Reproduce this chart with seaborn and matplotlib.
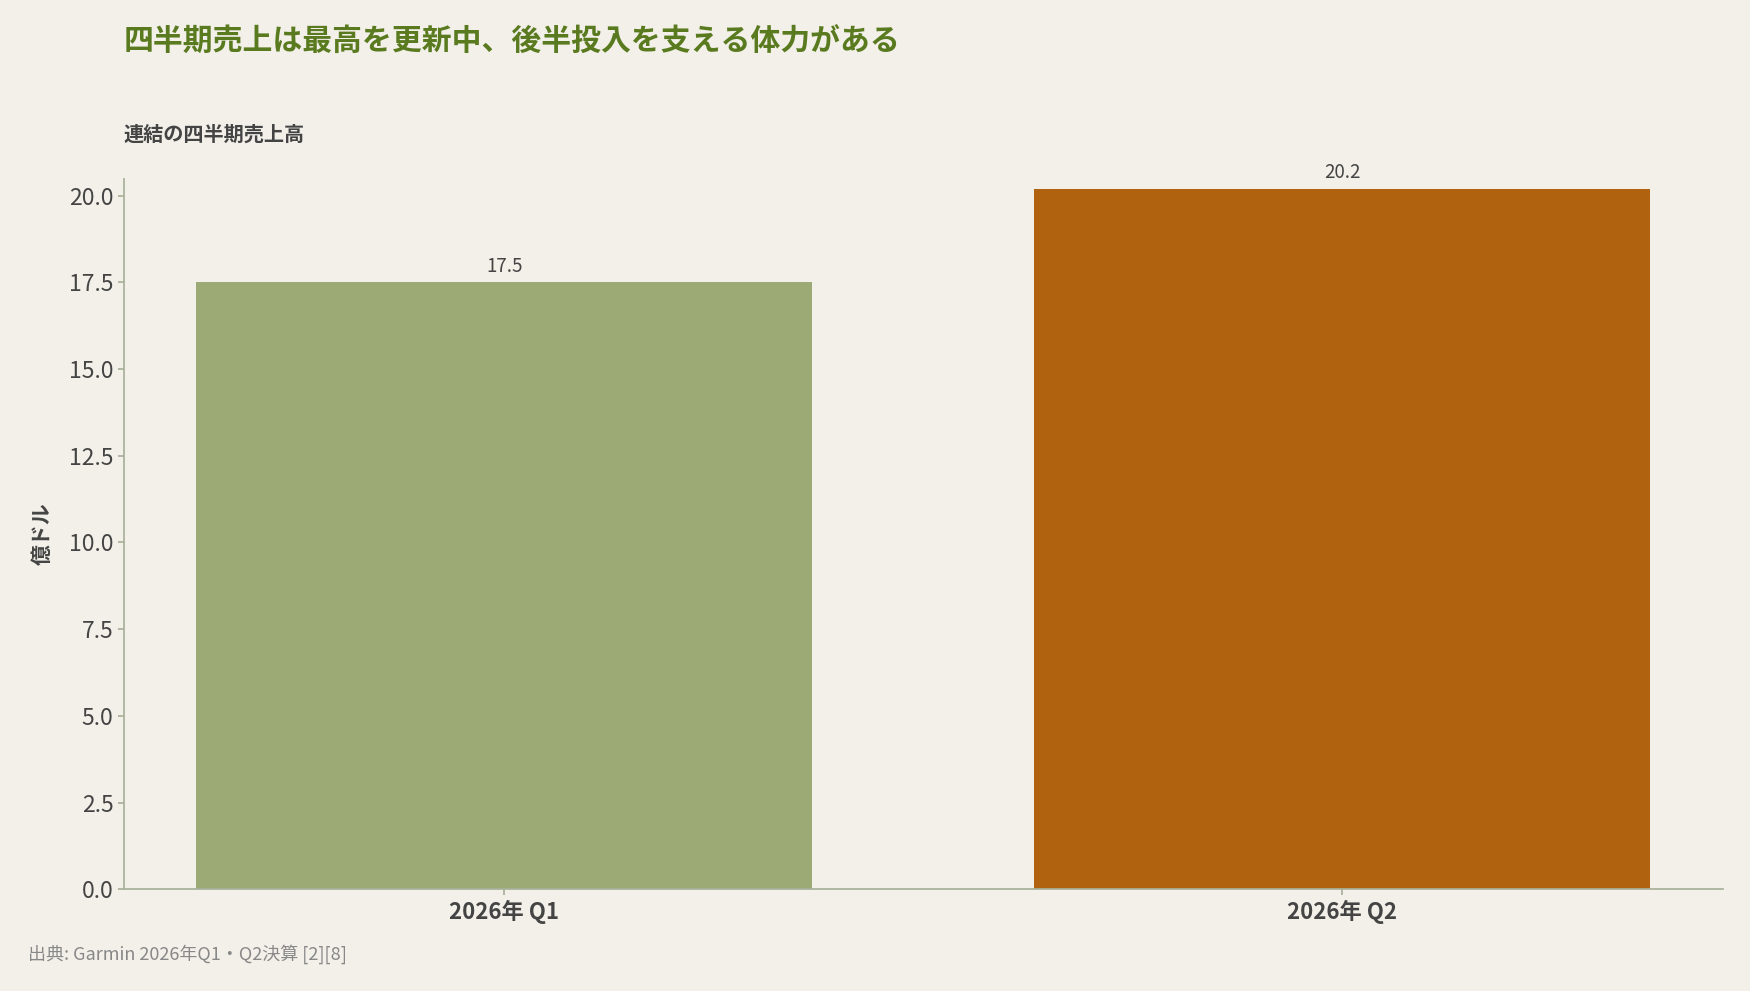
import matplotlib
matplotlib.use("Agg")
import matplotlib.pyplot as plt
import seaborn as sns
import pandas as pd

categories = ["2026年 Q1", "2026年 Q2"]
values = [17.5, 20.2]
colors = ["#9caa76", "#b0620f"]
yticks = [0.0, 2.5, 5.0, 7.5, 10.0, 12.5, 15.0, 17.5, 20.0]

sns.set_theme(style="white")
plt.rcParams['font.family'] = ['Noto Sans CJK JP', 'DejaVu Sans']
bg = "#f2f0e9"
fig = plt.figure(figsize=(17.5, 9.91), dpi=100, facecolor=bg)
ax = fig.add_axes([0.0708, 0.1025, 0.914, 0.717], facecolor=bg)
df = pd.DataFrame({"cat": categories, "val": values})
sns.barplot(data=df, x="cat", y="val", hue="cat", palette=colors, legend=False,
            width=0.735, ax=ax, saturation=1, linewidth=0)
for i, v in enumerate(values):
    ax.text(i, v + 0.15, f"{v:.1f}", ha="center", va="bottom", fontsize=13.5, color="#444444")
ax.set_xlim(-0.454, 1.455)
ax.set_ylim(0, 20.48)
ax.set_yticks(yticks)
ax.set_yticklabels([f"{t:.1f}" for t in yticks], fontsize=16.5, color="#444444")
ax.tick_params(axis="x", labelsize=16, colors="#444444", length=4, color="#a8b09a", bottom=True)
ax.tick_params(axis="y", length=4, color="#a8b09a", left=True)
for lab in ax.get_xticklabels():
    lab.set_fontweight("bold")
ax.set_xlabel("")
ax.set_ylabel("億ドル", fontsize=15, fontweight="bold", color="#444444", labelpad=12)
for s in ["top", "right"]:
    ax.spines[s].set_visible(False)
for s in ["left", "bottom"]:
    ax.spines[s].set_color("#a8b09a")
fig.text(0.0708, 0.958, "四半期売上は最高を更新中、後半投入を支える体力がある", fontsize=21.5, fontweight="bold", color="#5a7a1f", va="center")
fig.text(0.0708, 0.865, "連結の四半期売上高", fontsize=14.5, fontweight="bold", color="#444444", va="center")
fig.text(0.016, 0.037, "出典: Garmin 2026年Q1・Q2決算 [2][8]", fontsize=13, color="#888888", va="center")
fig.savefig("out.png", dpi=100, facecolor=bg)
